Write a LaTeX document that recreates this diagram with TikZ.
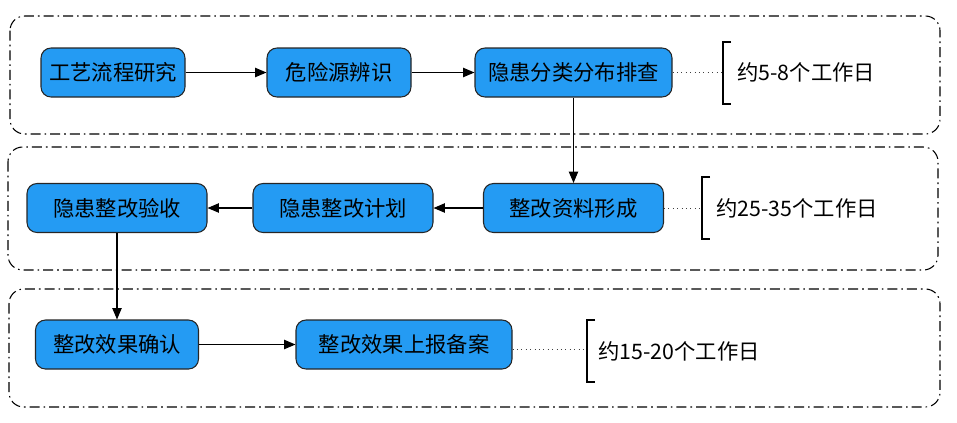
\documentclass[tikz,border=0pt]{standalone}
\usepackage{fontspec}
\setmainfont{Noto Sans CJK SC}
\usetikzlibrary{arrows.meta}
\definecolor{boxblue}{RGB}{36,155,243}
\tikzset{
  bx/.style={draw=black!85, line width=0.8pt, fill=boxblue, rounded corners=7.5pt,
    minimum height=49*0.75pt, minimum width=#1*0.75pt, inner sep=0pt,
    font=\fontsize{16pt}{18pt}\selectfont},
  grp/.style={line width=0.8pt, rounded corners=11pt,
    dash pattern=on 7.5pt off 3pt on 1.2pt off 3pt},
  arr/.style={line width=0.8pt, -{Triangle[length=8.5pt,width=7pt]}},
  dots/.style={line width=0.6pt, black!75, dash pattern=on 0.7pt off 2.6pt},
  brk/.style={line width=1pt},
  dur/.style={anchor=west, inner sep=0pt, font=\fontsize{16pt}{18pt}\selectfont}
}
\begin{document}
\begin{tikzpicture}[x=0.75pt,y=-0.75pt]
\useasboundingbox (0,0) rectangle (957,422);
% group frames
\draw[grp] (10,16) rectangle (940,134);
\draw[grp] (8,147) rectangle (938,270);
\draw[grp] (9,289) rectangle (940,407);
% row 1
\node[bx=144] (a1) at (113,72.5) {工艺流程研究};
\node[bx=144] (a2) at (339,72.5) {危险源辨识};
\node[bx=197] (a3) at (573.5,72.5) {隐患分类分布排查};
% row 2
\node[bx=180] (b3) at (573.5,208) {整改资料形成};
\node[bx=180] (b2) at (343,208) {隐患整改计划};
\node[bx=180] (b1) at (117,208) {隐患整改验收};
% row 3
\node[bx=163] (c1) at (117,344.5) {整改效果确认};
\node[bx=216] (c2) at (404,344.5) {整改效果上报备案};
% arrows
\draw[arr] (a1) -- (a2);
\draw[arr] (a2) -- (a3);
\draw[arr] (a3.south) -- (b3.north);
\draw[arr] (b3) -- (b2);
\draw[arr] (b2) -- (b1);
\draw[arr] (b1.south) -- (b1.south |- c1.north);
\draw[arr] (c1) -- (c2);
% durations
\coordinate (k1) at (723,72.5);
\coordinate (k2) at (702,208);
\coordinate (k3) at (587,349);
\draw[dots] (a3.east) -- (k1);
\draw[dots] (b3.east) -- (k2);
\draw[dots] (c2.east |- k3) -- (k3);
\draw[brk] (731,42) -- (723,42) -- (723,104) -- (731,104);
\draw[brk] (710,177) -- (702,177) -- (702,239) -- (710,239);
\draw[brk] (595,320) -- (587,320) -- (587,382) -- (595,382);
\node[dur] (t1) at (737,72) {约5-8个工作日};
\node[dur] (t2) at (716,208) {约25-35个工作日};
\node[dur] (t3) at (598,351) {约15-20个工作日};
\end{tikzpicture}
\end{document}
